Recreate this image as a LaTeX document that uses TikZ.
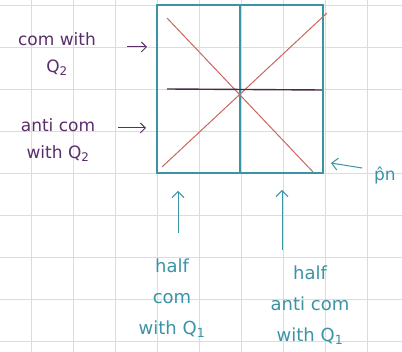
\documentclass[tikz,border=0pt]{standalone}
\usepackage{fontspec}
\setmainfont{DejaVu Sans}
\usetikzlibrary{arrows.meta}
\definecolor{teal1}{HTML}{3A94A6}
\definecolor{redl}{HTML}{C8685E}
\definecolor{purp}{HTML}{5A2E6A}
\definecolor{darkl}{HTML}{4A2A48}
\definecolor{gridc}{HTML}{DCDCDC}
\begin{document}
\begin{tikzpicture}[x=1pt,y=-1pt,
  plbl/.style={align=center,font=\fontsize{17}{27}\selectfont,inner sep=1pt,text=purp},
  tlbl/.style={align=center,font=\fontsize{18}{31}\selectfont,inner sep=1pt,text=teal1},
  parr/.style={->,purp,line width=1pt,>={Straight Barb[length=5pt]}},
  tarr/.style={->,teal1,line width=1pt,>={Straight Barb[length=6pt]}},
  box/.style={teal1,line width=1.4pt}]
\fill[white] (0,0) rectangle (402,352);
\useasboundingbox (0,0) rectangle (402,352);
% grid paper
\foreach \x in {31,73,...,400} \draw[gridc,line width=0.8pt] (\x,0) -- (\x,352);
\foreach \y in {5,47,...,350} \draw[gridc,line width=0.8pt] (0,\y) -- (402,\y);
% square
\coordinate (tl) at (157,5);
\coordinate (br) at (323,173);
\draw[box] (tl) rectangle (br);
\coordinate (mt) at (240,5);
\coordinate (mb) at (240,173);
\draw[box] (mt) -- (mb);
% diagonals
\coordinate (d1a) at (167,18);
\coordinate (d1b) at (313,172);
\coordinate (d2a) at (162,167);
\coordinate (d2b) at (327,13);
\draw[redl,line width=1pt] (d1a) -- (d1b);
\draw[redl,line width=1pt] (d2a) -- (d2b);
% horizontal line
\coordinate (ha) at (167,89);
\coordinate (hb) at (322,90);
\draw[darkl,line width=1.4pt] (ha) -- (hb);
% left labels
\node[plbl] (l1) at (57,54) {com with\\Q\textsubscript{2}};
\node[plbl] (l2) at (58,140) {anti com\\with Q\textsubscript{2}};
\coordinate (a1s) at (127,47);
\coordinate (a1e) at (147,47);
\coordinate (a2s) at (118,128);
\coordinate (a2e) at (146,128);
\draw[parr] (a1s) -- (a1e);
\draw[parr] (a2s) -- (a2e);
% right label
\node[tlbl,font=\fontsize{17}{20}\selectfont] (pn) at (385,175) {\^{p}n};
\coordinate (pa) at (362,168);
\coordinate (pb) at (331,163);
\draw[tarr] (pa) -- (pb);
% bottom labels
\node[tlbl] (b1) at (172,298) {half\\com\\with Q\textsubscript{1}};
\node[tlbl] (b2) at (310,305) {half\\anti com\\with Q\textsubscript{1}};
\coordinate (u1s) at (178,233);
\coordinate (u1e) at (178,191);
\coordinate (u2s) at (282,250);
\coordinate (u2e) at (282,190);
\draw[tarr] (u1s) -- (u1e);
\draw[tarr] (u2s) -- (u2e);
\end{tikzpicture}
\end{document}
